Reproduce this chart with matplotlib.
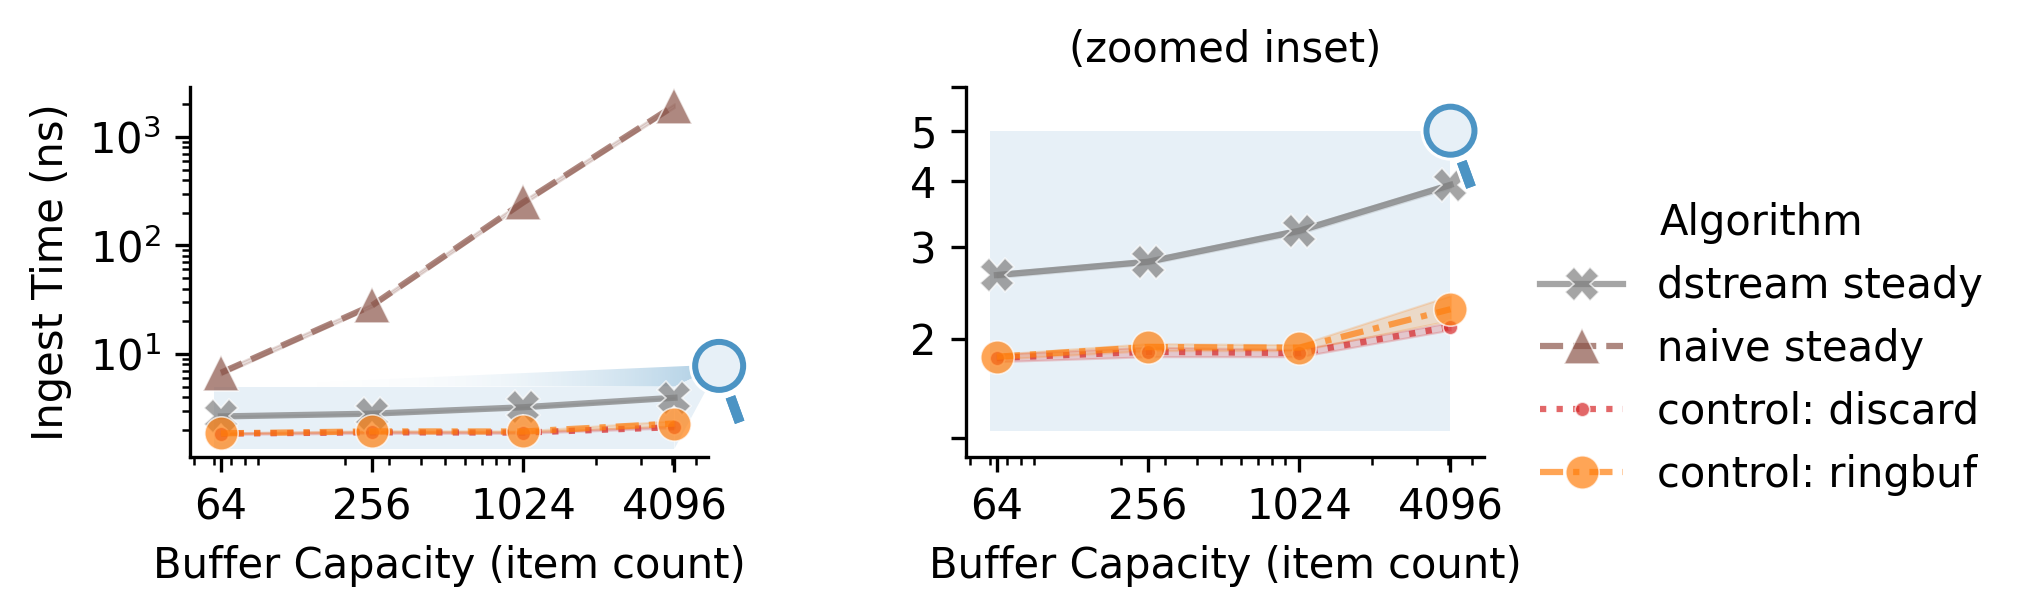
import numpy as np
import matplotlib
matplotlib.use('Agg')
import matplotlib.pyplot as plt
import matplotlib.patheffects as pe
from matplotlib.patches import Circle, Polygon, Rectangle
from matplotlib.lines import Line2D
from matplotlib.ticker import LogLocator

W, H, DPI = 2029, 616, 300

capacity = [64, 256, 1024, 4096]
capacity_labels = ['64', '256', '1024', '4096']

dstream = [2.65, 2.81, 3.22, 3.94]
dstream_lo = [2.62, 2.78, 3.18, 3.89]
dstream_hi = [2.68, 2.84, 3.26, 3.99]
naive = [6.7, 28, 250, 1950]
naive_lo = [6.4, 27, 240, 1870]
naive_hi = [7.0, 29, 260, 2030]
discard = [1.84, 1.89, 1.88, 2.11]
discard_lo = [1.81, 1.85, 1.85, 2.08]
discard_hi = [1.87, 1.93, 1.91, 2.15]
ringbuf = [1.85, 1.93, 1.925, 2.28]
ringbuf_lo = [1.83, 1.90, 1.90, 2.17]
ringbuf_hi = [1.87, 1.96, 1.95, 2.42]

# zoomed region, shared by both panels
frame_x = [60, 4096]
frame_y = [1.336, 5]

FS = 10
BLUE = '#4c94c4'
TINT = '#e7f0f7'

series = [
    ('dstream steady', dstream, dstream_lo, dstream_hi,
     dict(color='#7f7f7f', ls='-', marker='X', ms=8)),
    ('naive steady', naive, naive_lo, naive_hi,
     dict(color='#8c564b', ls=(0, (3.7, 1.6)), marker='^', ms=8.5)),
    ('control: discard', discard, discard_lo, discard_hi,
     dict(color='#d62728', ls=(0, (1, 1.65)), marker='o', ms=3.5)),
    ('control: ringbuf', ringbuf, ringbuf_lo, ringbuf_hi,
     dict(color='#ff7f0e', ls=(0, (3.7, 1.6, 1, 1.6)), marker='o', ms=8)),
]

plt.rcParams['font.family'] = 'DejaVu Sans'
plt.rcParams['font.size'] = FS

fig = plt.figure(figsize=(W / DPI, H / DPI), dpi=DPI)


def px_axes(x0, x1, y_top, y_bot, **kw):
    return fig.add_axes([x0 / W, 1 - y_bot / H, (x1 - x0) / W, (y_bot - y_top) / H], **kw)


under = px_axes(0, W, 0, H, zorder=0)
over = px_axes(0, W, 0, H, zorder=5)
for a in (under, over):
    a.set_xlim(0, W)
    a.set_ylim(0, H)
    a.axis('off')
    a.patch.set_alpha(0)

left = px_axes(190, 708, 87, 457, zorder=1)
right = px_axes(966, 1484, 87, 457, zorder=1)


def draw_panel(ax, ylim, rows):
    ax.patch.set_alpha(0)
    ax.set_xscale('log')
    ax.set_yscale('log')
    ax.add_patch(Rectangle((frame_x[0], frame_y[0]), frame_x[1] - frame_x[0],
                           frame_y[1] - frame_y[0], fc=TINT, ec='none', zorder=0.5))
    for name, y, lo, hi, st in rows:
        ax.fill_between(capacity, lo, hi, color=st['color'], alpha=0.2, lw=0.5, zorder=2)
        ax.plot(capacity, y, color=st['color'], ls=st['ls'], lw=1.5, alpha=0.7,
                marker=st['marker'], ms=st['ms'], mec='white', mew=0.4, zorder=3,
                label=name)
    ax.set_xlim(48.2, 5570)
    ax.set_ylim(*ylim)
    ax.set_xticks(capacity, capacity_labels)
    ax.set_xlabel('Buffer Capacity (item count)', fontsize=FS, labelpad=4)
    ax.spines[['top', 'right']].set_visible(False)


draw_panel(left, (1.12, 2890), series)
left.set_ylabel('Ingest Time (ns)', fontsize=FS, labelpad=4.2)

# naive steady is far above the inset's range
draw_panel(right, (1.19, 6.06), [s for s in series if s[0] != 'naive steady'])
right.set_yticks([1.291, 2, 3, 4, 5, 6.06], ['', '2', '3', '4', '5', ''])
right.minorticks_off()
right.set_xticks(capacity, capacity_labels)
right.xaxis.set_minor_locator(LogLocator(base=10, subs=range(2, 10), numticks=20))
right.set_title('(zoomed inset)', fontsize=FS, pad=6)

handles = [Line2D([], [], color=s[4]['color'], ls=s[4]['ls'], lw=1.5, alpha=0.7,
                  marker=s[4]['marker'], ms=s[4]['ms'], mec='white', mew=0.4, label=s[0])
           for s in series]
fig.legend(handles=handles, title='Algorithm', frameon=False, loc='center left',
           bbox_to_anchor=(1540 / W, 1 - 349 / H), fontsize=FS, title_fontsize=FS,
           borderpad=0, borderaxespad=0)

fig.canvas.draw()


def to_over(ax, x, y):
    # data coords of a panel -> pixel coords of the overlay axes (y up)
    return ax.transData.transform((x, y))


def magnifier(center):
    cx, cy = center
    over.add_patch(Circle((cx, cy), 30, fc='white', ec='none'))
    over.add_patch(Circle((cx, cy), 24, fc=TINT, ec=BLUE, lw=6 * 72 / DPI))
    angle = np.radians(70)
    r0, r1 = 33, 60
    hx = [cx + r0 * np.cos(angle), cx + r1 * np.cos(angle)]
    hy = [cy - r0 * np.sin(angle), cy - r1 * np.sin(angle)]
    over.plot(hx, hy, color=BLUE, lw=10 * 72 / DPI, solid_capstyle='butt',
              path_effects=[pe.withStroke(linewidth=16 * 72 / DPI, foreground='white'), pe.Normal()])


# left panel: marker sits off the frame corner, with fading wedges leading to it
tl = to_over(left, frame_x[0], frame_y[1])
tr = to_over(left, frame_x[1], frame_y[1])
br = to_over(left, frame_x[1], frame_y[0])
mag = to_over(left, 6170, 7.75)

upper = Polygon([tl, (mag[0] - 30, mag[1]), mag, tr], transform=under.transData, fc='none', ec='none')
under.add_patch(upper)
grad = np.zeros((2, 256, 4))
grad[..., :3] = matplotlib.colors.to_rgb(BLUE)
grad[..., 3] = 0.42 * np.linspace(0, 1, 256) ** 3
im = under.imshow(grad, extent=(tl[0], mag[0] - 20, tr[1] - 5, mag[1] + 5), aspect='auto', zorder=1, origin='lower')
im.set_clip_path(upper)
under.add_patch(Polygon([tr, mag, br], fc=TINT, ec='none', zorder=1))
under.set_xlim(0, W)
under.set_ylim(0, H)

magnifier(mag)
magnifier(to_over(right, frame_x[1], frame_y[1]))
over.set_xlim(0, W)
over.set_ylim(0, H)

fig.savefig('out.png', dpi=DPI)
